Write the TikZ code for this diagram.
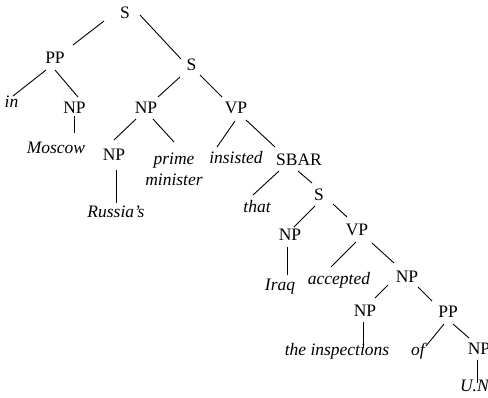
\documentclass[tikz,border=0pt]{standalone}
\usepackage{fontspec}
\setmainfont{Liberation Serif}
\begin{document}
\begin{tikzpicture}[x=1pt,y=-1pt,
  every node/.style={inner sep=0pt,outer sep=0pt,anchor=base,font=\fontsize{17.5}{21}\selectfont},
  cat/.style={},
  word/.style={font=\fontsize{17.5}{21}\selectfont\itshape},
  branch/.style={draw=black,line width=0.9pt}]
\useasboundingbox (0,0) rectangle (488,397);

% category labels
\node[cat] (S1)  at (125,18)   {S};
\node[cat] (PP1) at (55,63)    {PP};
\node[cat] (S2)  at (191.5,70) {S};
\node[cat] (NPa) at (74.5,113) {NP};
\node[cat] (NPb) at (146,113)  {NP};
\node[cat] (VP1) at (236,113)  {VP};
\node[cat] (NPc) at (114,160)  {NP};
\node[cat] (SBAR) at (299,165) {SBAR};
\node[cat] (S3)  at (319,200)  {S};
\node[cat] (NPd) at (290,240)  {NP};
\node[cat] (VP2) at (357,235)  {VP};
\node[cat] (NPe) at (407,282)  {NP};
\node[cat] (NPf) at (365,316)  {NP};
\node[cat] (PP2) at (448,317)  {PP};
\node[cat] (NPg) at (479,354)  {NP};

% words (base of a two-line node is the baseline of its last line)
\node[word] (in)   at (11.5,107) {in};
\node[word] (moscow) at (56,153) {Moscow};
\node[word,align=center] (pm) at (174,185) {prime\\minister};
\node[word] (russia) at (116,217) {Russia's};
\node[word] (insisted) at (236,163) {insisted};
\node[word] (that) at (257,212) {that};
\node[word] (iraq) at (280,290) {Iraq};
\node[word] (accepted) at (339,284) {accepted};
\node[word] (insp) at (337,355) {the inspections};
\node[word] (of) at (418,355) {of};
\node[word,anchor=base west] (un) at (460,391) {U.N.};

% branches
\draw[branch] ([shift={(-21,3)}]S1.base) -- ([shift={(18,-18)}]PP1.base);
\draw[branch] ([shift={(15,-3)}]S1.base) -- ([shift={(-10.5,-11)}]S2.base);
\draw[branch] ([shift={(-9,7)}]PP1.base) -- ([shift={(1.5,-11)}]in.base);
\draw[branch] ([shift={(0,7)}]PP1.base) -- ([shift={(3.5,-16)}]NPa.base);
\draw[branch] ([shift={(-0.5,3)}]NPa.base) -- ([shift={(18,-20)}]moscow.base);
\draw[branch] ([shift={(-11.5,7)}]S2.base) -- ([shift={(12,-16)}]NPb.base);
\draw[branch] ([shift={(8.5,5)}]S2.base) -- ([shift={(-14,-16)}]VP1.base);
\draw[branch] ([shift={(-10,6)}]NPb.base) -- ([shift={(0,-20)}]NPc.base);
\draw[branch] ([shift={(7,6)}]NPb.base) -- ([shift={(0,-43)}]pm.base);
\draw[branch] ([shift={(2.5,10)}]NPc.base) -- ([shift={(0.5,-14)}]russia.base);
\draw[branch] ([shift={(-1,8)}]VP1.base) -- ([shift={(-19,-16)}]insisted.base);
\draw[branch] ([shift={(10,7)}]VP1.base) -- ([shift={(-24,-18)}]SBAR.base);
\draw[branch] ([shift={(-20,6)}]SBAR.base) -- ([shift={(-4,-17)}]that.base);
\draw[branch] ([shift={(-1,6)}]SBAR.base) -- ([shift={(-7,-17)}]S3.base);
\draw[branch] ([shift={(-4,6)}]S3.base) -- ([shift={(4,-13)}]NPd.base);
\draw[branch] ([shift={(14,4)}]S3.base) -- ([shift={(-10,-18)}]VP2.base);
\draw[branch] ([shift={(-3,7)}]NPd.base) -- ([shift={(7,-15)}]iraq.base);
\draw[branch] ([shift={(-1,7)}]VP2.base) -- ([shift={(-8,-17)}]accepted.base);
\draw[branch] ([shift={(15,8)}]VP2.base) -- ([shift={(-13,-19)}]NPe.base);
\draw[branch] ([shift={(-19,3)}]NPe.base) -- ([shift={(10,-18)}]NPf.base);
\draw[branch] ([shift={(11,5)}]NPe.base) -- ([shift={(-16,-16)}]PP2.base);
\draw[branch] ([shift={(-2,6)}]NPf.base) -- ([shift={(26,-7)}]insp.base);
\draw[branch] ([shift={(-4,7)}]PP2.base) -- ([shift={(8,-9)}]of.base);
\draw[branch] ([shift={(5,7)}]PP2.base) -- ([shift={(-10,-16)}]NPg.base);
\draw[branch] ([shift={(-2,6)}]NPg.base) -- ([shift={(17,-8)}]un.base west);
\end{tikzpicture}
\end{document}
